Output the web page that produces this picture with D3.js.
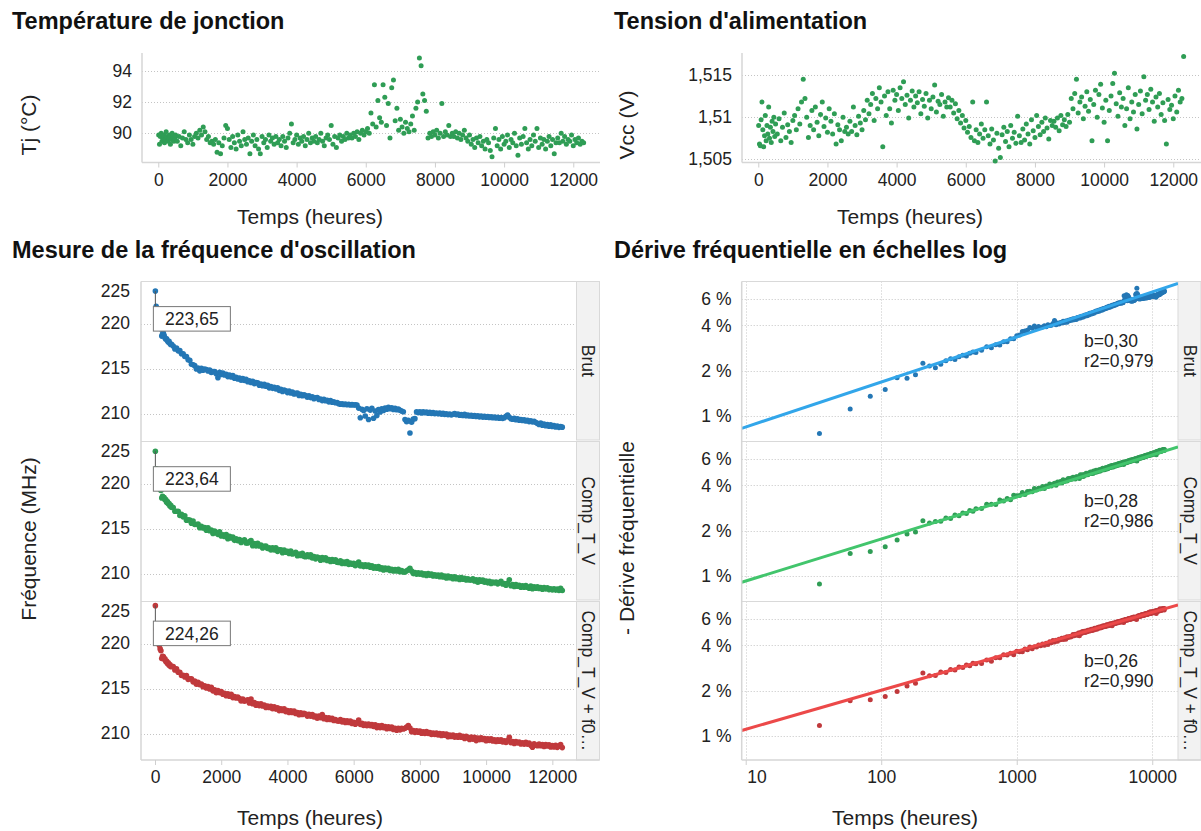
<!DOCTYPE html>
<html><head><meta charset="utf-8">
<script src="https://cdn.jsdelivr.net/npm/d3@7"></script>
<style>
body{margin:0;background:#fff;}
svg{display:block;font-family:"Liberation Sans",Arial,Helvetica,sans-serif;}
</style></head><body>
<svg id="chart" width="1201" height="831"></svg>
<script>
// ---------------- DATA ----------------
const hours = [11,35,59,83,107,131,155,179,203,227,251,275,300,325,350,375,400,425,450,475,500,
550,600,650,700,750,800,850,900,950,1000,1050,1100,1150,1200,1250,1300,1350,1400,1450,1500,
1550,1600,1650,1700,1750,1800,1850,1900,1950,2000,2050,2100,2150,2200,2250,2300,2350,2400,2450,2500,
2550,2600,2650,2700,2750,2800,2850,2900,2950,3000,3050,3100,3150,3200,3250,3300,3350,3400,3450,3500,
3550,3600,3650,3700,3750,3800,3850,3900,3950,4000,4050,4100,4150,4200,4250,4300,4350,4400,4450,4500,
4550,4600,4650,4700,4750,4800,4850,4900,4950,5000,5050,5100,5150,5200,5250,5300,5350,5400,5450,5500,
5550,5600,5650,5700,5750,5800,5850,5900,5950,6000,6050,6100,6150,6200,6250,6300,6350,6400,6450,6500,
6550,6600,6650,6700,6750,6800,6850,6900,6950,7000,7050,7100,7150,7200,7250,7300,7350,7400,7450,7500,
7550,7600,7650,7700,7750,7800,7850,7900,7950,8000,8050,8100,8150,8200,8250,8300,8350,8400,8450,8500,
8550,8600,8650,8700,8750,8800,8850,8900,8950,9000,9050,9100,9150,9200,9250,9300,9350,9400,9450,9500,
9550,9600,9650,9700,9750,9800,9850,9900,9950,10000,10050,10100,10150,10200,10250,10300,10350,10400,10450,10500,
10550,10600,10650,10700,10750,10800,10850,10900,10950,11000,11050,11100,11150,11200,11250,11300,11350,11400,11450,11500,
11550,11600,11650,11700,11750,11800,11850,11900,11950,12000,12050,12100,12150,12200,12250,12300];

const tempJonction = [89.9,89.3,89.8,90.0,89.5,89.7,89.9,89.4,89.6,90.1,89.8,89.5,89.7,89.9,89.3,89.6,90.0,89.8,89.5,89.7,89.9,
89.5,89.8,89.2,89.7,90.1,89.6,89.4,89.9,89.6,89.3,89.8,90.0,89.7,90.2,89.9,90.4,90.1,89.6,89.8,89.4,
89.5,89.3,89.6,88.8,89.4,88.7,89.2,89.7,90.5,90.3,89.6,89.1,89.8,89.4,89.0,89.9,89.5,89.2,90.1,89.6,
89.3,89.7,88.7,89.5,89.9,89.2,89.6,89.0,88.7,89.8,89.4,89.6,89.1,89.9,89.5,89.7,89.3,89.8,89.4,89.6,
89.2,89.8,89.5,89.1,89.7,90.0,90.6,89.4,89.6,89.9,89.3,89.7,89.5,89.8,89.2,89.6,90.0,89.4,89.7,89.5,
89.8,89.4,89.6,90.0,89.5,89.2,89.7,89.9,89.6,90.5,89.3,89.8,89.1,89.7,89.9,89.5,89.8,89.6,90.0,89.7,
89.9,89.7,90.0,89.8,90.1,89.6,90.0,90.2,89.9,90.1,90.3,90.0,91.3,90.6,93.1,90.4,92.1,91.0,90.7,93.1,
92.3,90.5,91.9,89.7,92.9,93.4,90.8,91.6,90.2,90.9,90.4,90.0,90.7,90.3,90.1,90.6,91.1,90.2,91.6,92.0,
94.8,94.3,92.5,92.1,91.4,89.7,90.0,89.8,90.1,89.9,90.2,89.7,90.0,91.9,89.8,90.1,89.9,90.5,89.8,90.0,
89.8,90.1,89.7,90.0,89.6,89.9,90.2,89.7,89.5,89.9,89.3,89.6,89.1,89.7,89.4,89.8,89.2,89.5,89.0,89.6,
89.4,88.9,88.5,89.7,90.3,89.2,89.6,89.0,89.8,89.3,89.5,89.9,89.1,89.6,89.4,90.0,89.2,88.6,89.7,89.3,
89.8,90.3,89.4,89.0,89.6,89.2,89.9,89.5,90.3,89.1,89.7,89.3,89.6,89.0,89.5,89.8,89.2,89.6,88.7,89.4,
89.7,89.4,90.0,89.5,89.8,89.3,89.6,89.5,89.9,89.2,89.6,89.4,89.7,89.3,89.5,89.4];

const vcc = [1.5090,1.5068,1.5066,1.5097,1.5118,1.5085,1.5065,1.5078,1.5102,1.5072,1.5090,1.5080,1.5112,1.5075,1.5088,1.5070,1.5095,1.5083,1.5100,1.5077,1.5092,
1.5080,1.5098,1.5072,1.5088,1.5105,1.5076,1.5091,1.5083,1.5070,1.5096,1.5102,1.5085,1.5110,1.5092,1.5118,1.5145,1.5122,1.5100,1.5076,1.5090,
1.5108,1.5085,1.5112,1.5094,1.5078,1.5103,1.5118,1.5089,1.5099,1.5082,1.5110,1.5095,1.5080,1.5104,1.5068,1.5091,1.5085,1.5072,1.5100,1.5083,
1.5088,1.5080,1.5095,1.5083,1.5112,1.5090,1.5079,1.5101,1.5093,1.5085,1.5108,1.5097,1.5120,1.5104,1.5115,1.5128,1.5096,1.5122,1.5110,1.5135,
1.5118,1.5065,1.5125,1.5102,1.5130,1.5110,1.5093,1.5132,1.5120,1.5127,1.5108,1.5135,1.5122,1.5142,1.5115,1.5126,1.5099,1.5120,1.5131,1.5112,
1.5125,1.5117,1.5130,1.5104,1.5121,1.5113,1.5128,1.5099,1.5120,1.5110,1.5124,1.5138,1.5106,1.5119,1.5115,1.5127,1.5101,1.5118,1.5112,1.5123,
1.5112,1.5120,1.5105,1.5116,1.5098,1.5108,1.5093,1.5102,1.5087,1.5096,1.5082,1.5089,1.5076,1.5118,1.5072,1.5085,1.5070,1.5080,1.5092,1.5075,
1.5085,1.5118,1.5078,1.5068,1.5086,1.5073,1.5048,1.5081,1.5063,1.5052,1.5079,1.5088,1.5071,1.5083,1.5065,1.5090,1.5075,1.5082,1.5069,1.5101,
1.5078,1.5070,1.5086,1.5073,1.5092,1.5080,1.5068,1.5097,1.5084,1.5076,1.5102,1.5089,1.5079,1.5094,1.5083,1.5099,1.5087,1.5074,1.5096,1.5090,
1.5095,1.5088,1.5099,1.5084,1.5102,1.5091,1.5097,1.5089,1.5103,1.5094,1.5122,1.5110,1.5128,1.5145,1.5105,1.5118,1.5124,1.5098,1.5113,1.5130,
1.5107,1.5121,1.5072,1.5115,1.5132,1.5100,1.5127,1.5139,1.5111,1.5094,1.5120,1.5072,1.5108,1.5125,1.5140,1.5152,1.5116,1.5101,1.5129,1.5112,
1.5122,1.5090,1.5110,1.5135,1.5098,1.5118,1.5106,1.5127,1.5086,1.5115,1.5131,1.5104,1.5148,1.5120,1.5127,1.5109,1.5133,1.5118,1.5095,1.5124,
1.5112,1.5128,1.5103,1.5117,1.5096,1.5068,1.5121,1.5109,1.5114,1.5098,1.5125,1.5106,1.5132,1.5118,1.5122,1.5172];

const freqBrut = [223.65,221.95,221.17,220.63,220.30,219.65,219.67,219.45,218.64,218.86,218.98,218.72,218.45,218.28,218.35,218.12,217.98,218.05,217.82,217.70,217.74,
217.53,217.20,217.30,217.00,217.02,216.68,216.68,216.37,216.35,216.01,215.94,215.50,215.45,215.35,214.98,215.08,214.77,215.05,214.85,214.97,
214.92,214.75,214.87,214.60,214.70,214.68,214.45,214.00,214.60,214.37,214.52,214.30,214.38,214.13,214.30,214.09,214.24,213.95,214.04,213.87,
213.98,213.73,213.90,213.70,213.84,213.55,213.65,213.47,213.62,213.35,213.46,213.45,213.18,213.30,213.12,213.27,213.05,213.15,212.88,213.01,
212.82,212.95,212.75,212.87,212.60,212.71,212.48,212.63,212.55,212.35,212.52,212.30,212.41,212.19,212.26,212.30,212.03,212.15,211.99,212.10,
212.02,211.84,211.98,211.79,211.88,211.66,211.77,211.80,211.58,211.64,211.46,211.60,211.44,211.50,211.32,211.46,211.27,211.32,211.22,211.25,
211.12,211.05,211.10,211.02,211.08,211.00,211.05,210.98,211.03,210.97,211.00,210.95,210.62,209.55,210.50,210.35,209.75,210.55,209.35,210.40,
210.60,209.50,210.30,209.80,210.45,210.20,210.55,210.35,210.62,210.50,210.70,210.55,210.65,210.48,210.60,210.45,210.52,210.38,210.30,210.22,
209.35,209.10,209.25,207.85,209.05,209.40,209.45,210.20,210.12,210.20,210.08,210.22,210.10,210.18,210.05,210.15,210.02,210.12,210.00,210.08,
209.98,210.06,209.95,210.03,209.92,210.00,209.88,209.97,209.85,209.93,210.02,209.88,209.95,209.82,209.90,209.80,209.92,209.78,209.86,209.75,
209.82,209.72,209.80,209.68,209.77,209.65,209.74,209.62,209.70,209.60,209.68,209.58,209.66,209.55,209.63,209.52,209.60,209.50,209.58,209.48,
209.55,209.72,209.85,209.60,209.45,209.38,209.50,209.33,209.42,209.28,209.36,209.25,209.32,209.18,209.27,209.12,209.20,209.08,209.15,209.02,
208.92,208.80,208.95,208.72,208.85,208.66,208.78,208.60,208.75,208.58,208.68,208.52,208.62,208.48,208.58,208.50];

const freqCompTV = [223.64,221.67,220.49,220.40,220.15,219.77,219.39,219.26,218.43,218.62,218.50,218.47,218.22,218.25,217.96,218.02,217.78,217.82,217.55,217.62,217.38,
217.36,216.95,216.95,216.96,216.48,216.60,216.33,216.45,215.96,216.00,215.97,215.63,215.87,215.48,215.47,215.53,215.11,215.29,215.08,215.15,
214.85,215.10,214.78,214.85,214.48,214.76,214.54,214.38,214.66,214.20,214.34,214.15,214.35,213.89,214.15,213.97,214.07,213.71,213.88,213.66,
213.81,213.48,213.66,213.76,213.41,213.42,213.57,213.69,213.12,213.35,213.10,213.38,213.08,213.18,212.86,213.04,213.09,212.80,212.87,212.65,
212.88,212.64,212.88,212.49,212.65,212.67,212.33,212.64,212.40,212.49,212.25,212.51,212.20,212.28,212.37,212.00,212.20,212.03,212.27,211.93,
211.90,212.11,211.88,212.10,211.74,211.91,211.65,211.86,211.78,211.50,211.79,211.57,211.78,211.47,211.57,211.36,211.57,211.39,211.55,211.27,
211.24,211.43,211.13,211.30,211.14,211.34,211.04,211.19,211.05,211.17,210.89,211.10,211.29,210.86,210.99,210.79,210.98,210.80,210.95,210.72,
210.87,210.62,210.76,210.60,210.79,210.53,210.66,210.42,210.64,210.46,210.61,210.36,210.48,210.30,210.47,210.31,210.49,210.22,210.34,210.19,
210.19,210.32,210.44,210.61,210.29,210.01,210.13,209.94,210.11,209.94,210.08,209.86,209.99,209.80,210.02,209.84,209.95,209.75,209.87,209.73,
209.86,209.66,209.85,209.64,209.73,209.53,209.73,209.56,209.64,209.45,209.65,209.43,209.54,209.36,209.56,209.39,209.50,209.29,209.44,209.29,
209.30,209.42,209.18,209.33,209.05,209.31,209.15,209.30,209.05,209.17,208.98,209.15,208.91,209.08,208.96,209.08,208.87,209.00,209.14,208.86,
208.90,208.72,208.92,209.32,208.67,208.79,208.58,208.78,208.60,208.71,208.50,208.64,208.49,208.69,208.50,208.39,208.61,208.32,208.55,208.39,
208.53,208.35,208.47,208.28,208.46,208.31,208.43,208.23,208.32,208.20,208.32,208.17,208.30,208.14,208.37,208.13];

const freqCompTVf0 = [224.26,221.64,220.43,220.36,220.16,219.84,219.44,219.24,218.38,218.62,218.60,218.30,218.35,218.05,218.10,217.82,217.88,217.62,217.70,217.45,217.50,
217.47,217.09,217.22,216.85,216.84,216.48,216.51,216.31,216.48,216.05,216.12,216.12,215.77,215.86,215.51,215.72,215.46,215.52,215.22,215.32,
215.09,215.25,214.98,215.16,214.77,214.90,214.57,214.79,214.56,214.70,214.40,214.49,214.23,214.44,214.18,214.38,214.02,214.14,213.98,214.07,
213.92,213.65,213.87,213.62,213.70,213.77,213.41,213.86,213.33,213.48,213.17,213.32,213.13,213.33,213.08,213.20,212.93,213.09,212.91,213.04,
212.78,212.99,212.74,212.88,212.57,212.76,212.59,212.78,212.46,212.57,212.36,212.55,212.37,212.51,212.24,212.36,212.11,212.32,212.14,212.27,
212.20,211.96,212.15,211.96,212.13,211.85,211.97,211.73,211.97,211.77,212.14,211.66,211.79,211.58,211.77,211.58,211.72,211.47,211.58,211.43,
211.40,211.57,211.32,211.45,211.24,211.43,211.25,211.41,211.14,211.26,211.06,211.23,211.53,211.04,211.17,210.92,211.08,210.89,211.08,210.88,
211.01,210.80,210.98,210.68,210.87,210.68,210.90,210.68,210.79,210.56,210.76,210.57,210.73,210.48,210.61,210.39,210.59,210.43,210.61,210.53,
210.61,210.73,210.91,210.64,210.21,210.34,210.15,210.33,210.16,210.30,210.06,210.20,210.03,210.23,210.03,210.14,209.92,210.07,209.91,210.07,
209.85,210.01,209.79,209.99,209.82,209.96,209.67,209.86,209.70,209.86,209.62,209.77,209.60,209.82,209.60,209.72,209.47,209.70,209.53,209.36,
209.62,209.40,209.60,209.23,209.52,209.34,209.54,209.35,209.46,209.21,209.44,209.26,209.42,209.19,209.32,209.13,209.31,209.16,209.31,209.07,
209.20,209.03,209.23,209.60,209.00,209.12,208.92,209.13,208.96,209.07,208.85,208.99,208.84,209.04,208.84,208.96,208.71,208.50,208.88,208.71,
208.67,208.85,208.66,208.80,208.57,208.80,208.63,208.75,208.53,208.67,208.53,208.70,208.48,208.61,208.80,208.45];

const seriesNames = ["Brut", "Comp_T_V", "Comp_T_V + f0\u2026"];
const fitSlope = [0.30, 0.28, 0.26];      // exposant b de la loi de puissance
const fitAt1h = [0.4215, 0.484, 0.6066];  // dérive (%) à t = 1 h
const fitR2 = [0.979, 0.986, 0.990];

const timeTicks = [0, 2000, 4000, 6000, 8000, 10000, 12000];
const logTimeTicks = [10, 100, 1000, 10000];
const tjTicks = [90, 92, 94];
const vccTicks = [1.505, 1.51, 1.515];
const freqTicks = [210, 215, 220, 225];
const driftTicks = [1, 2, 4, 6];

// ---------------- STYLE ----------------
const FONT = '"Liberation Sans", Arial, Helvetica, sans-serif';
const GRID = "#c4c4c4", AXIS = "#d6d6d6", TXT = "#222";
const green = "#2f9d55";
const ptColors = ["#2477b5", "#2f9d55", "#c0393c"];
const lineColors = ["#32a6ea", "#42c56c", "#ec4949"];
const TICK_FS = 17.5;
const R_TOP = 2.5, R_FREQ = 2.8;

const fr = d3.formatLocale({decimal: ",", thousands: "", grouping: [3], currency: ["", " €"]});
const fmtTrim = fr.format("~f"), fmt2 = fr.format(".2f"), fmt3 = fr.format(".3f");

const svg = d3.select("#chart");
svg.append("rect").attr("width", 1201).attr("height", 831).attr("fill", "#fff");

function styleAxis(g) {
  g.attr("font-family", FONT).attr("font-size", TICK_FS);
  g.select(".domain").remove();
  g.selectAll(".tick line").attr("stroke", "#cfcfcf");
  g.selectAll(".tick text").attr("fill", TXT);
}
function hGrid(y, vals, x0, x1) {
  svg.append("g").selectAll("line").data(vals).join("line")
    .attr("x1", x0).attr("x2", x1).attr("y1", d => Math.round(y(d)) + 0.5).attr("y2", d => Math.round(y(d)) + 0.5)
    .attr("stroke", GRID).attr("stroke-dasharray", "1,2");
}
function vGrid(x, vals, y0, y1) {
  svg.append("g").selectAll("line").data(vals).join("line")
    .attr("y1", y0).attr("y2", y1).attr("x1", d => Math.round(x(d)) + 0.5).attr("x2", d => Math.round(x(d)) + 0.5)
    .attr("stroke", GRID).attr("stroke-dasharray", "1,2");
}
function line(x1, y1, x2, y2, color, w) {
  svg.append("line").attr("x1", x1).attr("y1", y1).attr("x2", x2).attr("y2", y2)
    .attr("stroke", color || AXIS).attr("stroke-width", w || 1.5);
}
function title(x, y, str) {
  svg.append("text").attr("x", x).attr("y", y).attr("font-size", 23.5).attr("font-weight", "bold")
    .attr("fill", "#111").text(str);
}
function yTitle(cx, cy, str) {
  svg.append("text").attr("transform", `translate(${cx},${cy}) rotate(-90)`)
    .attr("text-anchor", "middle").attr("dominant-baseline", "central")
    .attr("font-size", 21).attr("fill", TXT).text(str);
}
function xTitle(cx, y, str) {
  svg.append("text").attr("x", cx).attr("y", y).attr("text-anchor", "middle")
    .attr("font-size", 21).attr("fill", TXT).text(str);
}

// ---------------- TOP PANELS ----------------
function topPanel(o) {
  const x = d3.scaleLinear().domain(o.xDomain).range([o.x0, o.x1]);
  const y = d3.scaleLinear().domain(o.yDomain).range([o.y1, o.y0]);
  title(o.titleX, 29, o.title);
  hGrid(y, o.yTicks, o.x0, o.x1);
  line(o.x0, o.y0, o.x0, o.y1);
  line(o.x0, o.y1, o.x1, o.y1);
  svg.append("g").selectAll("circle").data(hours.map((t, i) => [t, o.values[i]])).join("circle")
    .attr("cx", d => x(d[0])).attr("cy", d => y(d[1])).attr("r", R_TOP).attr("fill", green);
  const ya = svg.append("g").attr("transform", `translate(${o.x0 - 1},0)`)
    .call(d3.axisLeft(y).tickValues(o.yTicks).tickSize(0).tickPadding(9).tickFormat(o.fmt));
  styleAxis(ya);
  const xa = svg.append("g").attr("transform", `translate(0,${o.y1})`)
    .call(d3.axisBottom(x).tickValues(timeTicks).tickSize(5).tickPadding(6).tickFormat(d3.format("d")));
  styleAxis(xa);
  yTitle(o.yTitleX, 125, o.yTitle);
  xTitle(o.xTitleX, 224, "Temps (heures)");
}
topPanel({title: "Température de jonction", titleX: 12, values: tempJonction,
  x0: 142, x1: 600, y0: 53, y1: 162.5, xDomain: [-471, 12773], yDomain: [88.14, 95.12],
  yTicks: tjTicks, fmt: fmtTrim, yTitle: "Tj (°C)", yTitleX: 28, xTitleX: 310});
topPanel({title: "Tension d'alimentation", titleX: 614, values: vcc,
  x0: 742, x1: 1201, y0: 53, y1: 162.5, xDomain: [-471, 12802], yDomain: [1.50462, 1.51761],
  yTicks: vccTicks, fmt: fmtTrim, yTitle: "Vcc (V)", yTitleX: 626, xTitleX: 910});

// ---------------- BOTTOM PANELS ----------------
const facetTops = [281.5, 441.5, 601.5], facetH = 158.5;
const freqSeries = [freqBrut, freqCompTV, freqCompTVf0];

function strip(x0, x1, top, name) {
  svg.append("rect").attr("x", x0).attr("y", top).attr("width", x1 - x0).attr("height", facetH)
    .attr("fill", "#f2f2f2").attr("stroke", "#d9d9d9");
  svg.append("text").attr("transform", `translate(${(x0 + x1) / 2},${top + facetH / 2}) rotate(90)`)
    .attr("text-anchor", "middle").attr("dominant-baseline", "central")
    .attr("font-size", TICK_FS).attr("fill", TXT).text(name);
}

// --- left: linear frequency ---
title(12, 258, "Mesure de la fréquence d'oscillation");
const xLin = d3.scaleLinear().domain([-423, 12730]).range([141, 576.5]);
freqSeries.forEach((vals, i) => {
  const top = facetTops[i], bot = top + facetH;
  const y = d3.scaleLinear().domain([207.07, 224.72]).range([bot, top]);
  const [dmin, dmax] = y.domain();
  hGrid(y, freqTicks.filter(v => v > dmin && v < dmax), 141, 576.5);
  strip(576.5, 599.5, top, seriesNames[i]);
  svg.append("g").selectAll("circle").data(hours.map((t, k) => [t, vals[k]])).join("circle")
    .attr("cx", d => xLin(d[0])).attr("cy", d => y(d[1])).attr("r", R_FREQ).attr("fill", ptColors[i]);
  // label of the reference value
  const px = xLin(hours[0]), py = y(vals[0]);
  line(px, py, px, py + 15.5, "#555", 1);
  svg.append("rect").attr("x", px - 2).attr("y", py + 15.5).attr("width", 77).attr("height", 24.5)
    .attr("fill", "#fff").attr("stroke", "#777");
  svg.append("text").attr("x", px - 2 + 38.5).attr("y", py + 15.5 + 12.5).attr("text-anchor", "middle")
    .attr("dominant-baseline", "central").attr("font-size", TICK_FS).attr("fill", TXT).text(fmt2(vals[0]));
  const ya = svg.append("g").attr("transform", "translate(140,0)")
    .call(d3.axisLeft(y).tickValues(freqTicks).tickSize(0).tickPadding(10).tickFormat(d3.format("d")));
  styleAxis(ya);
  ya.selectAll(".tick").attr("transform", d => `translate(0,${Math.max(y(d), top + 10)})`);
  line(141, top, 599.5, top, "#d9d9d9", 1);
});
line(141, 281.5, 141, 760);
line(141, 760, 599.5, 760);
const xaL = svg.append("g").attr("transform", "translate(0,760)")
  .call(d3.axisBottom(xLin).tickValues(timeTicks).tickSize(5).tickPadding(6).tickFormat(d3.format("d")));
styleAxis(xaL);
yTitle(28, 539, "Fréquence (MHz)");
xTitle(310, 825, "Temps (heures)");

// --- right: log-log drift ---
title(614, 258, "Dérive fréquentielle en échelles log");
const xLog = d3.scaleLog().domain([9.34, 15490]).range([741.7, 1178]);
freqSeries.forEach((vals, i) => {
  const top = facetTops[i], bot = top + facetH;
  const y = d3.scaleLog().domain([0.689, 7.85]).range([bot, top]);
  hGrid(y, driftTicks, 741.7, 1178);
  vGrid(xLog, logTimeTicks, top, bot);
  strip(1178, 1201, top, seriesNames[i]);
  const f0 = vals[0];
  const pts = hours.map((t, k) => [t, 100 * (f0 - vals[k]) / f0]).filter((d, k) => k > 0 && d[1] > 0);
  const clipId = "clip" + i;
  svg.append("clipPath").attr("id", clipId).append("rect")
    .attr("x", 741.7).attr("y", top).attr("width", 1178 - 741.7).attr("height", facetH);
  svg.append("g").attr("clip-path", `url(#${clipId})`).selectAll("circle").data(pts).join("circle")
    .attr("cx", d => xLog(d[0])).attr("cy", d => y(d[1])).attr("r", R_TOP).attr("fill", ptColors[i]);
  const fit = xLog.domain().map(t => [t, fitAt1h[i] * Math.pow(t, fitSlope[i])]);
  svg.append("path").attr("clip-path", `url(#${clipId})`)
    .attr("d", d3.line().x(d => xLog(d[0])).y(d => y(d[1]))(fit))
    .attr("fill", "none").attr("stroke", lineColors[i]).attr("stroke-width", 3);
  svg.append("text").attr("x", 1084).attr("y", top + 65).attr("font-size", TICK_FS).attr("fill", TXT)
    .text("b=" + fmt2(fitSlope[i]));
  svg.append("text").attr("x", 1084).attr("y", top + 85).attr("font-size", TICK_FS).attr("fill", TXT)
    .text("r2=" + fmt3(fitR2[i]));
  const ya = svg.append("g").attr("transform", "translate(740.5,0)")
    .call(d3.axisLeft(y).tickValues(driftTicks).tickSize(0).tickPadding(9).tickFormat(d => d + " %"));
  styleAxis(ya);
  line(741.7, top, 1201, top, "#d9d9d9", 1);
});
line(741.7, 281.5, 741.7, 760);
line(741.7, 760, 1201, 760);
const xaR = svg.append("g").attr("transform", "translate(0,760)")
  .call(d3.axisBottom(xLog).tickValues(logTimeTicks).tickSize(5).tickPadding(6).tickFormat(d3.format("d")));
styleAxis(xaR);
xaR.selectAll(".tick text").filter(d => d === 10).attr("text-anchor", "start").attr("x", 1);
yTitle(626, 538, "- Dérive fréquentielle");
xTitle(905, 825, "Temps (heures)");
</script>
</body></html>
